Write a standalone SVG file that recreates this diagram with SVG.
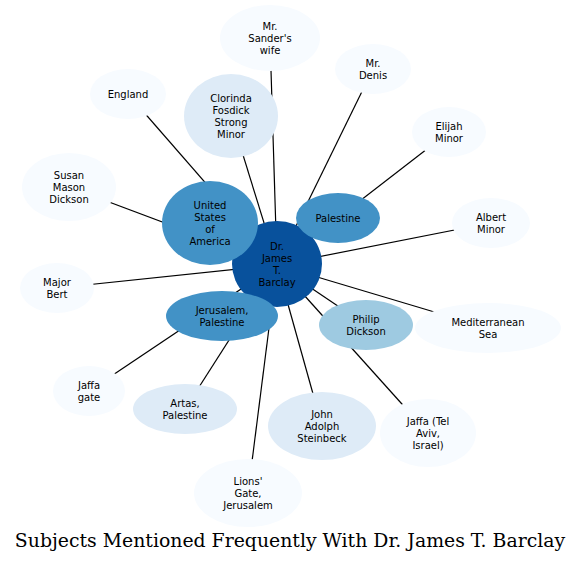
<svg xmlns="http://www.w3.org/2000/svg" width="581" height="562" viewBox="0 0 581 562">
<style>
.e{stroke:#000;stroke-width:1.2;fill:none}
text{font-family:"DejaVu Sans",sans-serif;font-size:10px;text-anchor:middle;fill:#000}
.t{font-family:"DejaVu Serif",serif;font-size:18.85px}
.c0{fill:#08519c}.c1{fill:#4292c6}.c2{fill:#9ecae1}.c3{fill:#deebf7}.c4{fill:#f7fbff}
</style>
<rect width="581" height="562" fill="#fff"/>
<g id="edges">
<line class="e" x1="277" y1="265" x2="270" y2="38"/>
<line class="e" x1="277" y1="265" x2="373" y2="69"/>
<line class="e" x1="277" y1="265" x2="449" y2="132"/>
<line class="e" x1="277" y1="265" x2="490" y2="223"/>
<line class="e" x1="277" y1="265" x2="488" y2="328"/>
<line class="e" x1="277" y1="265" x2="366" y2="325"/>
<line class="e" x1="277" y1="265" x2="428" y2="433"/>
<line class="e" x1="277" y1="265" x2="322" y2="426"/>
<line class="e" x1="277" y1="265" x2="248" y2="493"/>
<line class="e" x1="277" y1="265" x2="185" y2="409"/>
<line class="e" x1="277" y1="265" x2="89" y2="391"/>
<line class="e" x1="277" y1="265" x2="222" y2="316"/>
<line class="e" x1="277" y1="265" x2="57" y2="288"/>
<line class="e" x1="277" y1="265" x2="69" y2="187"/>
<line class="e" x1="277" y1="265" x2="210" y2="223"/>
<line class="e" x1="277" y1="265" x2="128" y2="94"/>
<line class="e" x1="277" y1="265" x2="231" y2="116"/>
<line class="e" x1="277" y1="265" x2="338" y2="218"/>
</g>
<g id="n-barclay"><ellipse class="c0" cx="277" cy="264" rx="45" ry="43"/><text><tspan x="277" y="249.5">Dr.</tspan><tspan x="277" y="261.5">James</tspan><tspan x="277" y="273.5">T.</tspan><tspan x="277" y="285.5">Barclay</tspan></text></g>
<g id="n-sander"><ellipse class="c4" cx="270" cy="38" rx="50" ry="33"/><text><tspan x="270" y="29.5">Mr.</tspan><tspan x="270" y="41.5">Sander's</tspan><tspan x="270" y="53.5">wife</tspan></text></g>
<g id="n-denis"><ellipse class="c4" cx="373" cy="69" rx="38" ry="25"/><text><tspan x="373" y="66.5">Mr.</tspan><tspan x="373" y="78.5">Denis</tspan></text></g>
<g id="n-elijah"><ellipse class="c4" cx="449" cy="132" rx="37" ry="25"/><text><tspan x="449" y="129.5">Elijah</tspan><tspan x="449" y="141.5">Minor</tspan></text></g>
<g id="n-albert"><ellipse class="c4" cx="491" cy="223" rx="39" ry="25"/><text><tspan x="491" y="220.5">Albert</tspan><tspan x="491" y="232.5">Minor</tspan></text></g>
<g id="n-med"><ellipse class="c4" cx="488" cy="328" rx="73" ry="25"/><text><tspan x="488" y="325.5">Mediterranean</tspan><tspan x="488" y="337.5">Sea</tspan></text></g>
<g id="n-philip"><ellipse class="c2" cx="366" cy="325" rx="47" ry="25"/><text><tspan x="366" y="322.5">Philip</tspan><tspan x="366" y="334.5">Dickson</tspan></text></g>
<g id="n-jaffatelaviv"><ellipse class="c4" cx="428" cy="433" rx="48" ry="34"/><text><tspan x="428" y="424.5">Jaffa (Tel</tspan><tspan x="428" y="436.5">Aviv,</tspan><tspan x="428" y="448.5">Israel)</tspan></text></g>
<g id="n-steinbeck"><ellipse class="c3" cx="322" cy="426" rx="54" ry="34"/><text><tspan x="322" y="417.5">John</tspan><tspan x="322" y="429.5">Adolph</tspan><tspan x="322" y="441.5">Steinbeck</tspan></text></g>
<g id="n-lions"><ellipse class="c4" cx="248" cy="493" rx="54" ry="34"/><text><tspan x="248" y="484.5">Lions'</tspan><tspan x="248" y="496.5">Gate,</tspan><tspan x="248" y="508.5">Jerusalem</tspan></text></g>
<g id="n-artas"><ellipse class="c3" cx="185" cy="409" rx="52" ry="25"/><text><tspan x="185" y="406.5">Artas,</tspan><tspan x="185" y="418.5">Palestine</tspan></text></g>
<g id="n-jaffagate"><ellipse class="c4" cx="89" cy="391" rx="36" ry="25"/><text><tspan x="89" y="388.5">Jaffa</tspan><tspan x="89" y="400.5">gate</tspan></text></g>
<g id="n-jerusalem"><ellipse class="c1" cx="222" cy="316" rx="56" ry="25"/><text><tspan x="222" y="313.5">Jerusalem,</tspan><tspan x="222" y="325.5">Palestine</tspan></text></g>
<g id="n-bert"><ellipse class="c4" cx="57" cy="288" rx="37" ry="25"/><text><tspan x="57" y="285.5">Major</tspan><tspan x="57" y="297.5">Bert</tspan></text></g>
<g id="n-susan"><ellipse class="c4" cx="69" cy="187" rx="47" ry="34"/><text><tspan x="69" y="178.5">Susan</tspan><tspan x="69" y="190.5">Mason</tspan><tspan x="69" y="202.5">Dickson</tspan></text></g>
<g id="n-us"><ellipse class="c1" cx="210" cy="223" rx="48" ry="42"/><text><tspan x="210" y="208.5">United</tspan><tspan x="210" y="220.5">States</tspan><tspan x="210" y="232.5">of</tspan><tspan x="210" y="244.5">America</tspan></text></g>
<g id="n-england"><ellipse class="c4" cx="128" cy="94" rx="38" ry="25"/><text x="128" y="97.5">England</text></g>
<g id="n-clorinda"><ellipse class="c3" cx="231" cy="116" rx="47" ry="42"/><text><tspan x="231" y="101.5">Clorinda</tspan><tspan x="231" y="113.5">Fosdick</tspan><tspan x="231" y="125.5">Strong</tspan><tspan x="231" y="137.5">Minor</tspan></text></g>
<g id="n-palestine"><ellipse class="c1" cx="338" cy="218" rx="42" ry="25"/><text x="338" y="221.5">Palestine</text></g>
<text class="t" x="290" y="547">Subjects Mentioned Frequently With Dr. James T. Barclay</text>
</svg>
